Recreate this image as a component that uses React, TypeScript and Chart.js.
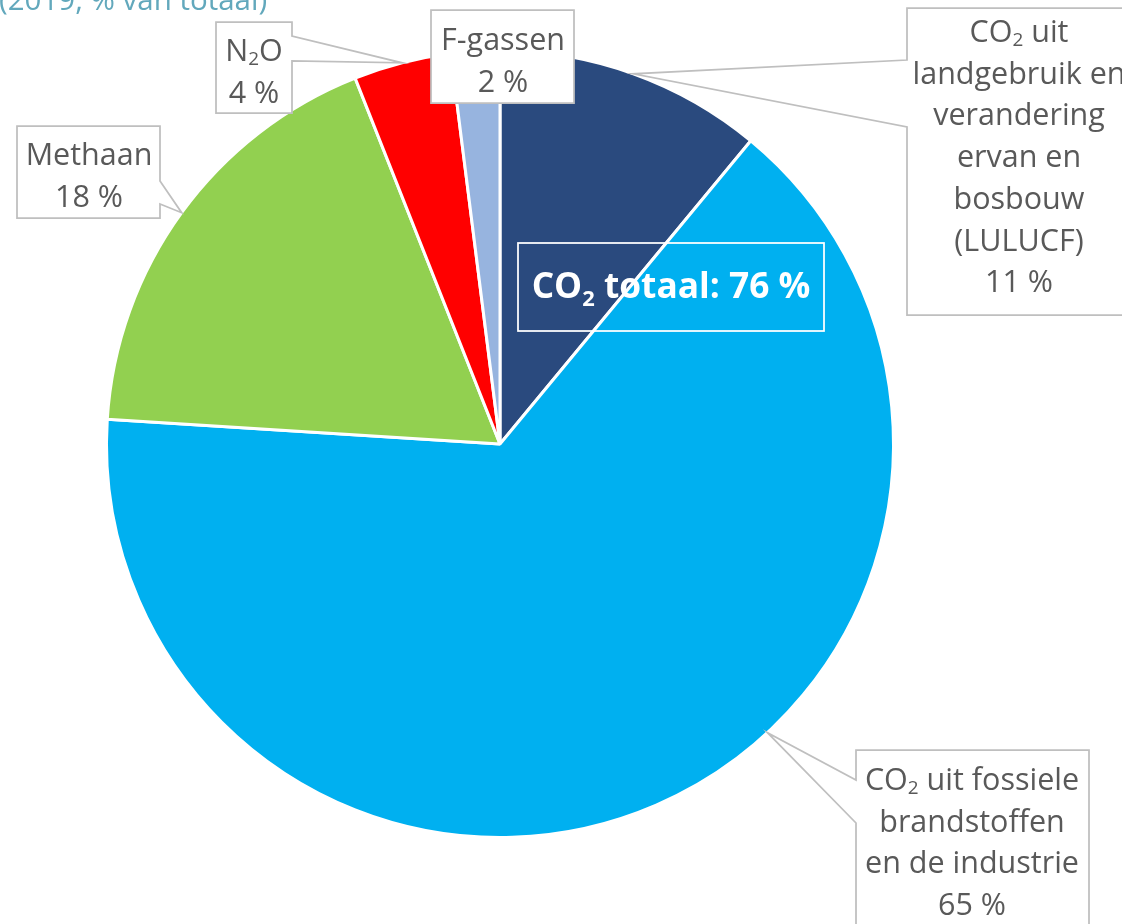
import React, { useEffect, useRef } from "react";
import { Chart, registerables } from "chart.js";

Chart.register(...registerables);

// ---- data ----
const categories = [
  "CO₂ uit landgebruik en verandering ervan en bosbouw (LULUCF)",
  "CO₂ uit fossiele brandstoffen en de industrie",
  "Methaan",
  "N₂O",
  "F-gassen",
];
const shares = [11, 65, 18, 4, 2];
const labelLines = [
  ["CO₂ uit", "landgebruik en", "verandering", "ervan en", "bosbouw", "(LULUCF)"],
  ["CO₂ uit fossiele", "brandstoffen", "en de industrie"],
  ["Methaan"],
  ["N₂O"],
  ["F-gassen"],
];
const co2TotalText = "CO₂ totaal";
const co2TotalValue = shares[0] + shares[1];
const subtitle = "(2019, % van totaal)";

// ---- styles / layout ----
const sliceColors = ["#2A4A7E", "#00B0F0", "#92D050", "#FF0000", "#97B4DF"];
const FONT = "'Open Sans', 'Noto Sans', sans-serif";
const LABEL_SIZE = 30.5;
const LINE_H = 41.7;
const TEXT_COLOR = "#595959";

type Callout = {
  box: [number, number, number, number];
  side: "left" | "right" | null;
  base: [number, number];
  anchor: number;
  cx: number;
  baseline: number;
};

const callouts: Callout[] = [
  { box: [907, 8, 226, 307], side: "left", base: [60, 127], anchor: 0.5, cx: 1019, baseline: 42 },
  { box: [856, 750, 233, 200], side: "left", base: [780, 823], anchor: 0.417, cx: 972, baseline: 790 },
  { box: [17, 126, 143, 92], side: "right", base: [181, 204], anchor: 0.5, cx: 89, baseline: 165 },
  { box: [216, 22, 76, 91], side: "right", base: [36, 61], anchor: 0.5, cx: 254, baseline: 61 },
  { box: [431, 10, 143, 93], side: null, base: [0, 0], anchor: 0.5, cx: 503, baseline: 50 },
];

function measureRich(ctx: CanvasRenderingContext2D, text: string, size: number, weight: string) {
  const parts = text.split("₂");
  let w = 0;
  parts.forEach((p, i) => {
    ctx.font = `${weight} ${size}px ${FONT}`;
    w += ctx.measureText(p).width;
    if (i < parts.length - 1) {
      ctx.font = `${weight} ${size * 0.62}px ${FONT}`;
      w += ctx.measureText("2").width;
    }
  });
  return w;
}

function drawRich(
  ctx: CanvasRenderingContext2D,
  text: string,
  cx: number,
  y: number,
  size: number,
  weight: string,
  subDrop: number
) {
  const total = measureRich(ctx, text, size, weight);
  let x = cx - total / 2;
  const parts = text.split("₂");
  ctx.textAlign = "left";
  ctx.textBaseline = "alphabetic";
  parts.forEach((p, i) => {
    ctx.font = `${weight} ${size}px ${FONT}`;
    ctx.fillText(p, x, y);
    x += ctx.measureText(p).width;
    if (i < parts.length - 1) {
      ctx.font = `${weight} ${size * 0.62}px ${FONT}`;
      ctx.fillText("2", x, y + size * subDrop);
      x += ctx.measureText("2").width;
    }
  });
}

const labelPlugin = {
  id: "calloutLabels",
  afterDraw(chart: any) {
    const ctx: CanvasRenderingContext2D = chart.ctx;
    const meta = chart.getDatasetMeta(0);
    ctx.save();

    // subtitle (cut off at top)
    ctx.fillStyle = "#62A8BC";
    ctx.font = `400 29.5px ${FONT}`;
    ctx.textAlign = "left";
    ctx.textBaseline = "alphabetic";
    ctx.fillText(subtitle, -1, 10);

    callouts.forEach((c, i) => {
      const arc = meta.data[i];
      const p = arc.getProps(["x", "y", "startAngle", "endAngle", "outerRadius"], true);
      const a = p.startAngle + (p.endAngle - p.startAngle) * c.anchor;
      const tx = p.x + Math.cos(a) * p.outerRadius;
      const ty = p.y + Math.sin(a) * p.outerRadius;
      const [x, y, w, h] = c.box;
      ctx.beginPath();
      if (c.side === "left") {
        ctx.moveTo(x, y);
        ctx.lineTo(x + w, y);
        ctx.lineTo(x + w, y + h);
        ctx.lineTo(x, y + h);
        ctx.lineTo(x, c.base[1]);
        ctx.lineTo(tx, ty);
        ctx.lineTo(x, c.base[0]);
        ctx.closePath();
      } else if (c.side === "right") {
        ctx.moveTo(x, y);
        ctx.lineTo(x + w, y);
        ctx.lineTo(x + w, c.base[0]);
        ctx.lineTo(tx, ty);
        ctx.lineTo(x + w, c.base[1]);
        ctx.lineTo(x + w, y + h);
        ctx.lineTo(x, y + h);
        ctx.closePath();
      } else {
        ctx.rect(x, y, w, h);
      }
      ctx.fillStyle = "#FFFFFF";
      ctx.fill();
      ctx.strokeStyle = "#BFBFBF";
      ctx.lineWidth = 1.75;
      ctx.lineJoin = "miter";
      ctx.stroke();

      ctx.fillStyle = TEXT_COLOR;
      const lines = [...labelLines[i], `${shares[i]} %`];
      lines.forEach((ln, k) => {
        drawRich(ctx, ln, c.cx, c.baseline + k * LINE_H, LABEL_SIZE, "400", 0.12);
      });
    });

    // CO2 totaal box
    ctx.strokeStyle = "#FFFFFF";
    ctx.lineWidth = 1.75;
    ctx.strokeRect(518, 243, 306, 88);
    ctx.fillStyle = "#FFFFFF";
    drawRich(ctx, `${co2TotalText}: ${co2TotalValue} %`, 671, 298, 35.3, "700", 0.22);

    ctx.restore();
  },
};

export default function App() {
  const ref = useRef<HTMLCanvasElement | null>(null);
  useEffect(() => {
    if (!ref.current) return;
    const chart = new Chart(ref.current, {
      type: "pie",
      data: {
        labels: categories,
        datasets: [
          {
            data: shares,
            backgroundColor: sliceColors,
            borderColor: "#FFFFFF",
            borderWidth: 3,
          },
        ],
      },
      options: {
        responsive: false,
        animation: false,
        layout: { padding: { left: 105, right: 227, top: 49, bottom: 85 } },
        plugins: {
          legend: { display: false },
          tooltip: { enabled: false },
          title: { display: false },
        },
      },
      plugins: [labelPlugin],
    });
    return () => chart.destroy();
  }, []);
  return (
    <div style={{ position: "fixed", left: 0, top: 0, width: 1122, height: 924, background: "#FFFFFF" }}>
      <canvas ref={ref} width={1122} height={924} style={{ width: 1122, height: 924, display: "block" }} />
    </div>
  );
}
